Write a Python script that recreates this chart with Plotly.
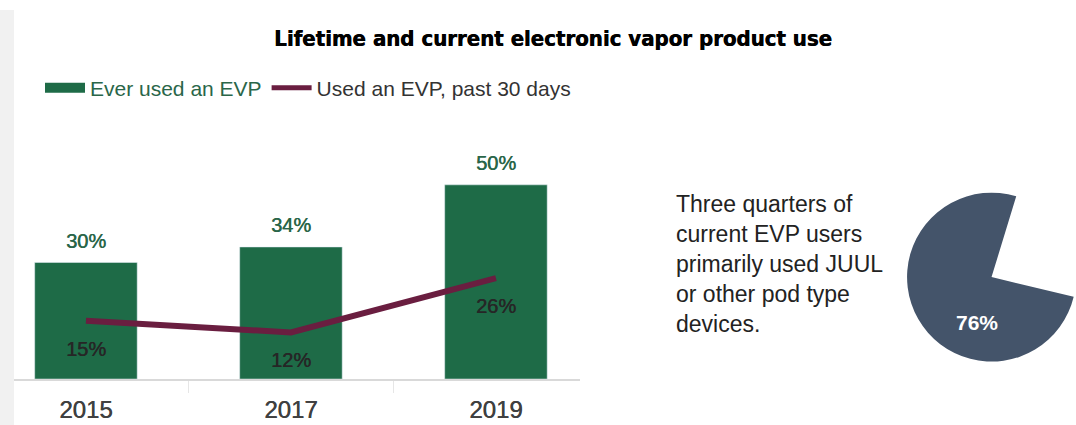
import plotly.graph_objects as go

years = ["2015", "2017", "2019"]
ever_used = [30, 34, 50]
past_30 = [15, 12, 26]
pie_values = [24, 76]
pie_labels = ["Other", "JUUL or other pod type"]

GREEN = "#1e6b47"
MAROON = "#6a1e40"
SLATE = "#44546a"
FONT = "Liberation Sans"

fig = go.Figure()

fig.add_trace(go.Bar(
    x=years, y=ever_used, marker_color=GREEN, width=0.5, showlegend=False,
    hoverinfo="skip",
))
fig.add_trace(go.Scatter(
    x=years, y=past_30, mode="lines", line=dict(color=MAROON, width=6),
    showlegend=False, hoverinfo="skip",
))
for i, v in enumerate(ever_used):
    fig.add_annotation(x=i, y=v, xref="x", yref="y", text=f"{v}%", showarrow=False,
                       xanchor="center", yanchor="middle", yshift=22,
                       font=dict(size=20, color="#2a6649", family=FONT,
                                 shadow="0.4px 0px 0px #2a6649"))
for i, v in enumerate(past_30):
    fig.add_annotation(x=i, y=v, xref="x", yref="y", text=f"{v}%", showarrow=False,
                       xanchor="center", yanchor="middle", yshift=-28,
                       font=dict(size=20, color="#262626", family=FONT,
                                 shadow="0.4px 0px 0px #262626"))

# legend entries
fig.add_trace(go.Scatter(x=[None], y=[None], mode="lines", line=dict(color=GREEN, width=11),
                         name="<span style='color:#2a6649'>Ever used an EVP</span>"))
fig.add_trace(go.Scatter(x=[None], y=[None], mode="lines", line=dict(color=MAROON, width=5),
                         name="<span style='color:#333333'>Used an EVP, past 30 days</span>"))

fig.add_trace(go.Pie(
    values=pie_values, labels=pie_labels, sort=False, direction="clockwise", rotation=17,
    marker=dict(colors=["rgba(0,0,0,0)", SLATE], line=dict(width=0)),
    textinfo="none", showlegend=False, hoverinfo="skip",
    domain=dict(x=[0.843, 1.0], y=[0.148, 0.548]),
))
fig.add_annotation(x=977/1076, y=(425-322)/425, xref="paper", yref="paper",
                   xanchor="center", yanchor="middle",
                   text=f"<b>{pie_values[1]}%</b>", showarrow=False,
                   font=dict(size=21, color="white", family=FONT))

fig.add_annotation(x=674/1076, y=(425-189)/425, xref="paper", yref="paper", xanchor="left", yanchor="top",
                   align="left", showarrow=False,
                   text="Three quarters of<br>current EVP users<br>primarily used JUUL<br>or other pod type<br>devices.",
                   font=dict(size=23, color="#222222", family=FONT))

fig.add_shape(type="rect", xref="paper", yref="paper", x0=0, x1=14/1076, y0=0, y1=(425-10)/425,
              fillcolor="#f1f1f1", line=dict(width=0), layer="below")

fig.update_layout(
    width=1076, height=425, margin=dict(l=0, r=0, t=0, b=0),
    paper_bgcolor="white", plot_bgcolor="white",
    title=dict(text="<b>Lifetime and current electronic vapor product use</b>",
               x=553/1076, xanchor="center", y=(425-38)/425, yanchor="middle",
               font=dict(size=22, color="#000000", family="Liberation Sans Narrow, DejaVu Sans Condensed, Arial Narrow",
                         shadow="0.5px 0px 0px #000000")),
    legend=dict(orientation="h", x=40/1076, y=(425-88)/425, xanchor="left", yanchor="middle",
                font=dict(size=21, family=FONT), itemwidth=40, tracegroupgap=0,
                bgcolor="rgba(0,0,0,0)"),
    xaxis=dict(type="category", domain=[14/1076, 580/1076], range=[-0.351, 2.41],
               showline=True, linecolor="#d9d9d9", linewidth=2,
               ticks="outside", tickson="boundaries", ticklen=12, tickcolor="#e6e6e6",
               ticklabelstandoff=8,
               tickfont=dict(size=24, color="#404040", family=FONT,
                             shadow="0.4px 0px 0px #404040"),
               showgrid=False, zeroline=False, fixedrange=True),
    yaxis=dict(range=[0, 60], domain=[(425-379)/425, (425-146)/425], visible=False,
               showgrid=False, zeroline=False),
    bargap=0.5,
)

fig.write_html("out.html")
